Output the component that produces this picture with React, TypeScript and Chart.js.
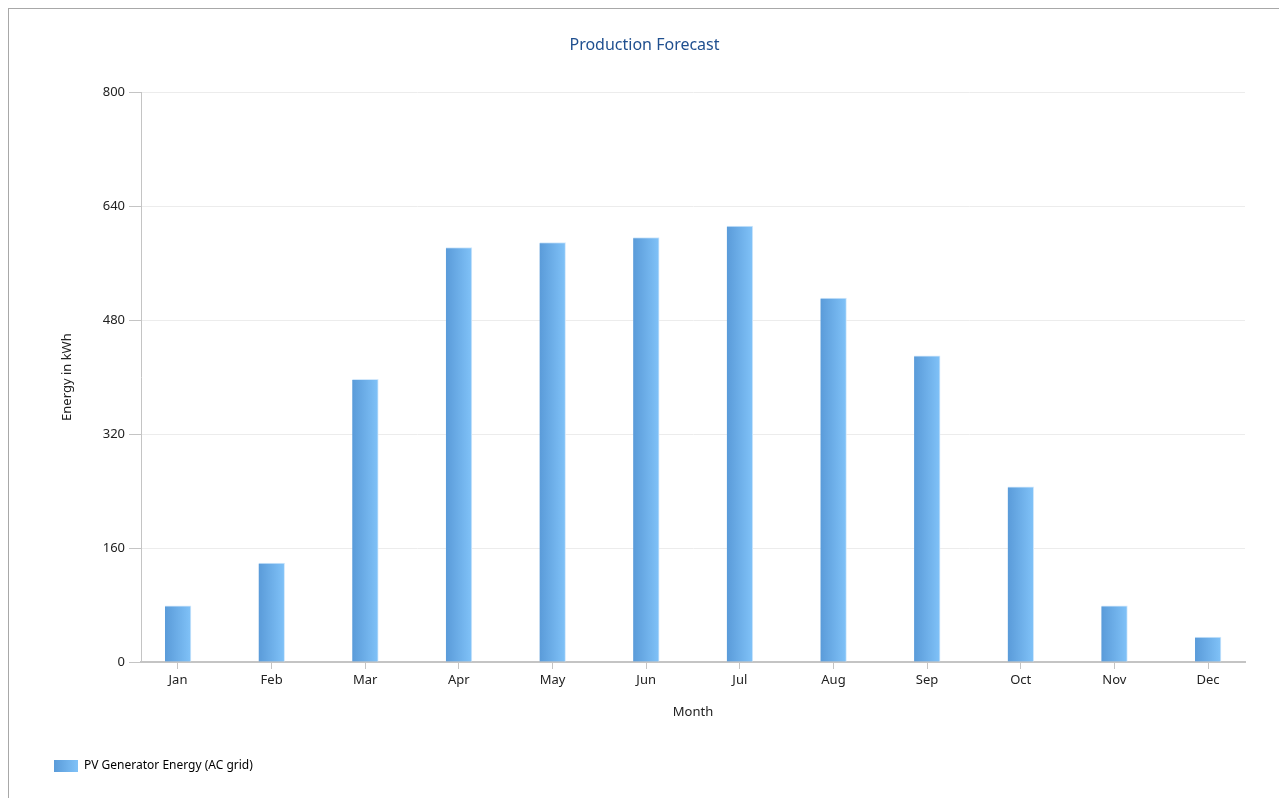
import React, { useEffect, useRef } from "react";
import { Chart, registerables } from "chart.js";

Chart.register(...registerables);

const months = ["Jan", "Feb", "Mar", "Apr", "May", "Jun", "Jul", "Aug", "Sep", "Oct", "Nov", "Dec"];
const energy = [79, 139, 397, 582, 589, 596, 612, 511, 430, 246, 79, 35];
const yTicks = [0, 160, 320, 480, 640, 800];

const FONT = "'Noto Sans', 'DejaVu Sans', sans-serif";
const BAR_W = 26;
const X_PAD = 0.395;

export default function App() {
  const ref = useRef<HTMLCanvasElement | null>(null);

  useEffect(() => {
    const canvas = ref.current;
    if (!canvas) return;
    const chart = new Chart(canvas, {
      type: "bar",
      data: {
        datasets: [
          {
            label: "PV Generator Energy (AC grid)",
            data: energy.map((v, i) => ({ x: i, y: v })),
            barThickness: BAR_W,
            borderWidth: { top: 1, right: 1, left: 0, bottom: 0 },
            borderColor: "#d2e8fb",
            borderSkipped: "bottom",
            backgroundColor: (ctx: any) => {
              const c = ctx.chart;
              const xs = c.scales?.x;
              if (ctx.dataIndex === undefined || !xs) return "#6aaeea";
              const px = xs.getPixelForValue(ctx.dataIndex);
              const g = c.ctx.createLinearGradient(px - BAR_W / 2, 0, px + BAR_W / 2, 0);
              g.addColorStop(0, "#5a9bd9");
              g.addColorStop(1, "#80c2f8");
              return g;
            },
          },
        ],
      },
      options: {
        animation: false,
        responsive: false,
        layout: { padding: { left: 35, right: 38, top: 11, bottom: 17 } },
        plugins: {
          title: {
            display: true,
            text: "Production Forecast",
            color: "#1f4f8f",
            font: { family: FONT, size: 16, weight: "normal" },
            padding: { top: 16, bottom: 37 },
          },
          legend: {
            position: "bottom",
            align: "start",
            labels: {
              color: "#222",
              font: { family: FONT, size: 12 },
              boxWidth: 24,
              boxHeight: 12,
              padding: 10,
              generateLabels: (c: any) => {
                const g = c.ctx.createLinearGradient(45, 0, 69, 0);
                g.addColorStop(0, "#5a9bd9");
                g.addColorStop(1, "#80c2f8");
                return [
                  {
                    text: c.data.datasets[0].label,
                    fillStyle: g,
                    strokeStyle: "#d2e8fb",
                    lineWidth: 0,
                    datasetIndex: 0,
                    hidden: false,
                  },
                ];
              },
            },
          },
          tooltip: { enabled: false },
        },
        scales: {
          x: {
            type: "linear",
            min: -X_PAD,
            max: months.length - 1 + X_PAD,
            offset: false,
            afterBuildTicks: (s: any) => {
              s.ticks = months.map((_, i) => ({ value: i }));
            },
            grid: {
              drawOnChartArea: false,
              drawTicks: true,
              tickLength: 7,
              tickColor: "#c4c4c4",
              offset: false,
            },
            border: { color: "#c4c4c4", width: 2 },
            ticks: {
              color: "#222",
              font: { family: FONT, size: 13 },
              padding: 3,
              autoSkip: false,
              maxRotation: 0,
              callback: (v: any) => months[Math.round(Number(v))] ?? "",
            },
            title: {
              display: true,
              text: "Month",
              color: "#222",
              font: { family: FONT, size: 13 },
              padding: { top: 10, bottom: 30 },
            },
            afterFit: (s: any) => {
              s.height = 88;
            },
          },
          y: {
            min: 0,
            max: 800,
            afterBuildTicks: (s: any) => {
              s.ticks = yTicks.map((v) => ({ value: v }));
            },
            grid: {
              color: "#ececec",
              tickColor: "#c4c4c4",
              tickLength: 12,
              drawTicks: true,
            },
            border: { color: "#c4c4c4", width: 1 },
            ticks: { color: "#222", font: { family: FONT, size: 13 }, padding: 4 },
            title: {
              display: true,
              text: "Energy in kWh",
              color: "#222",
              font: { family: FONT, size: 13 },
              padding: { top: 15, bottom: 10 },
            },
            afterFit: (s: any) => {
              s.width = 97;
            },
          },
        },
      },
    });
    return () => chart.destroy();
  }, []);

  return (
    <div
      style={{
        width: 1274,
        height: 800,
        border: "1px solid #a8a8a8",
        borderBottom: "none",
        background: "#fff",
      }}
    >
      <canvas ref={ref} width={1274} height={790} style={{ display: "block" }} />
    </div>
  );
}
